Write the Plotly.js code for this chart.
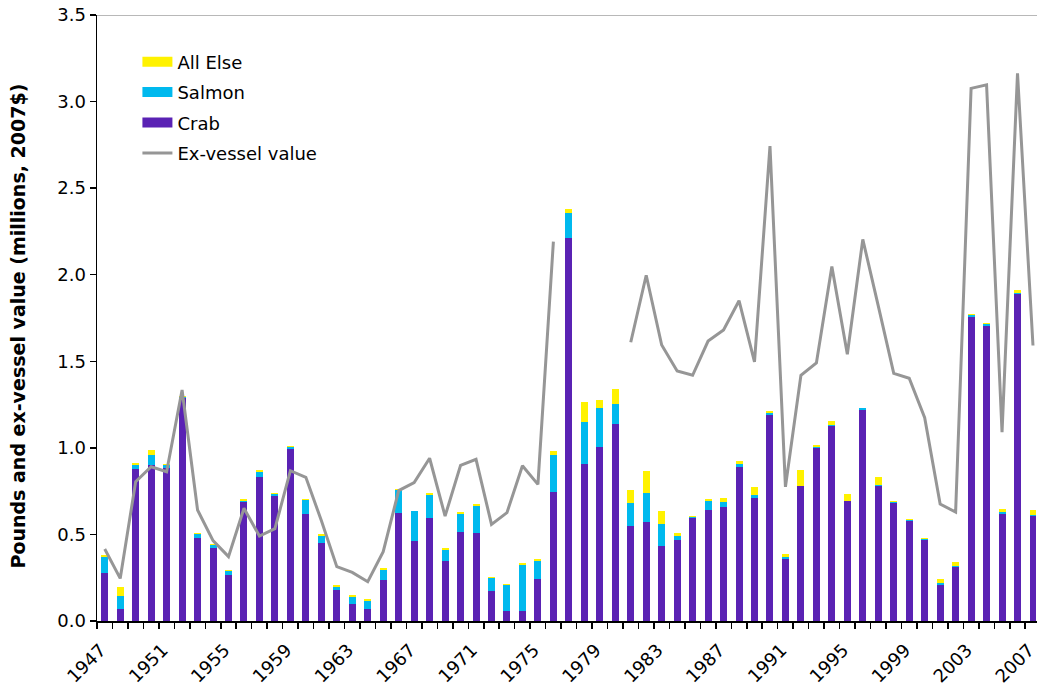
<!DOCTYPE html>
<html>
<head>
<meta charset="utf-8">
<script src="https://cdn.plot.ly/plotly-3.0.1.min.js"></script>
<style>html,body{margin:0;padding:0;background:#fff;}#chart{width:1037px;height:688px;}</style>
</head>
<body>
<div id="chart"></div>
<script>
const years = [];
for (let y = 1947; y <= 2007; y++) years.push(y);

const crab = [0.28,0.07,0.876,0.90,0.884,1.286,0.481,0.42,0.268,0.689,
  0.834,0.724,0.995,0.616,0.449,0.179,0.098,0.067,0.237,0.626,
  0.464,0.597,0.347,0.516,0.51,0.175,0.06,0.06,0.243,0.747,
  2.214,0.908,1.005,1.138,0.551,0.574,0.435,0.47,0.597,0.643,
  0.66,0.891,0.712,1.192,0.358,0.778,1.002,1.129,0.693,1.218,
  0.778,0.683,0.577,0.469,0.207,0.311,1.756,1.704,0.617,1.89,0.606];

const salmon = [0.09,0.075,0.027,0.058,0.015,0.008,0.021,0.017,0.019,0.006,
  0.028,0.009,0.008,0.083,0.044,0.017,0.039,0.049,0.059,0.131,
  0.171,0.131,0.065,0.102,0.156,0.071,0.146,0.265,0.104,0.214,
  0.144,0.241,0.227,0.113,0.132,0.167,0.127,0.023,0.005,0.048,
  0.027,0.017,0.017,0.011,0.011,0.004,0.004,0.005,0.002,0.01,
  0.009,0.005,0.005,0.007,0.01,0.005,0.009,0.009,0.01,0.005,0.004];

const allElse = [0.01,0.05,0.008,0.031,0.01,0.006,0.008,0.009,0.008,0.008,
  0.01,0.006,0.008,0.007,0.008,0.01,0.011,0.009,0.01,0.003,
  0.002,0.011,0.01,0.01,0.01,0.008,0.008,0.01,0.011,0.023,
  0.023,0.116,0.044,0.087,0.072,0.125,0.075,0.017,0.006,0.012,
  0.022,0.014,0.045,0.01,0.017,0.09,0.01,0.021,0.036,0.005,
  0.045,0.005,0.005,0.005,0.023,0.023,0.007,0.007,0.019,0.016,0.033];

const exVessel = [0.416,0.246,0.805,0.891,0.862,1.334,0.641,0.464,0.372,0.651,
  0.491,0.533,0.868,0.83,0.58,0.314,0.281,0.227,0.40,0.753,
  0.799,0.94,0.606,0.899,0.934,0.558,0.626,0.897,0.789,2.191,
  null,null,null,null,1.61,1.997,1.594,1.444,1.419,1.617,
  1.681,1.85,1.496,2.743,0.775,1.419,1.49,2.048,1.541,2.204,
  1.82,1.43,1.402,1.174,0.676,0.629,3.076,3.097,1.091,3.163,1.591];

const tickYears = [];
for (let y = 1947; y <= 2007; y += 4) tickYears.push(y);
const tickLabels = tickYears.map(String);

const seriesNames = ['All Else', 'Salmon', 'Crab'];
const seriesColors = {'Crab':'#5A22B4', 'Salmon':'#00B9EE', 'All Else':'#FFF200'};
const yTitle = 'Pounds and ex-vessel value (millions, 2007$)';

const font = 'DejaVu Sans, Verdana, sans-serif';
const barW = 0.45;

const traces = [
  {type:'bar', name:'Crab', x:years, y:crab, width:barW, showlegend:false,
   marker:{color:seriesColors['Crab'], line:{width:0}}},
  {type:'bar', name:'Salmon', x:years, y:salmon, width:barW, showlegend:false,
   marker:{color:seriesColors['Salmon'], line:{width:0}}},
  {type:'bar', name:'All Else', x:years, y:allElse, width:barW, showlegend:false,
   marker:{color:seriesColors['All Else'], line:{width:0}}}
];
// legend swatches (wide rectangles as in the original)
seriesNames.forEach((n, i) => {
  traces.push({type:'scatter', mode:'lines', name:n, x:[null], y:[null],
    line:{color:seriesColors[n], width:10}, legendrank:i+1, legendgroup:'g'+i, hoverinfo:'skip'});
});
traces.push({type:'scatter', mode:'lines', name:'Ex-vessel value', x:years, y:exVessel,
  line:{color:'#969696', width:3}, connectgaps:false, legendrank:4, legendgroup:'g3'});

const layout = {
  width:1037, height:688,
  margin:{l:97, r:0, t:15, b:67},
  paper_bgcolor:'#fff', plot_bgcolor:'#fff',
  barmode:'stack',
  font:{family:font, size:18, color:'#000'},
  showlegend:true,
  legend:{x:0.043, y:0.953, xanchor:'left', yanchor:'top',
    bgcolor:'rgba(0,0,0,0)', font:{family:font, size:18, color:'#000'},
    traceorder:'grouped', tracegroupgap:4},
  xaxis:{type:'linear', range:[1946.5, 2007.26],
    tickmode:'array', tickvals:tickYears, ticktext:tickLabels,
    ticks:'', tickangle:-45, tickfont:{family:font, size:18},
    ticklabelstandoff:10, ticklabelshift:-4, ticklabeloverflow:'allow',
    showline:true, linecolor:'#000', linewidth:1.5,
    showgrid:false, zeroline:false,
    minor:{tickmode:'linear', tick0:1946.5, dtick:1, ticks:'outside', ticklen:6,
      tickcolor:'#000', tickwidth:1.5, showgrid:false}},
  yaxis:{range:[0,3.5], dtick:0.5, tick0:0, tickformat:'.1f',
    ticks:'outside', ticklen:6, tickcolor:'#000', tickwidth:1.5,
    showline:true, linecolor:'#000', linewidth:1.5,
    showgrid:false, zeroline:false, tickfont:{family:font, size:18}},
  annotations:[{text:'<b>' + yTitle + '</b>', textangle:-90,
    xref:'paper', yref:'paper', x:-0.084, y:0.486, xanchor:'center', yanchor:'middle',
    showarrow:false, font:{family:font, size:19, color:'#000'}}],
  shapes:[{type:'line', xref:'paper', yref:'y', x0:0, x1:1, y0:3.5, y1:3.5,
    line:{color:'#A0A0A0', width:1.5}}]
};

Plotly.newPlot('chart', traces, layout, {displayModeBar:false, staticPlot:true});
</script>
</body>
</html>
